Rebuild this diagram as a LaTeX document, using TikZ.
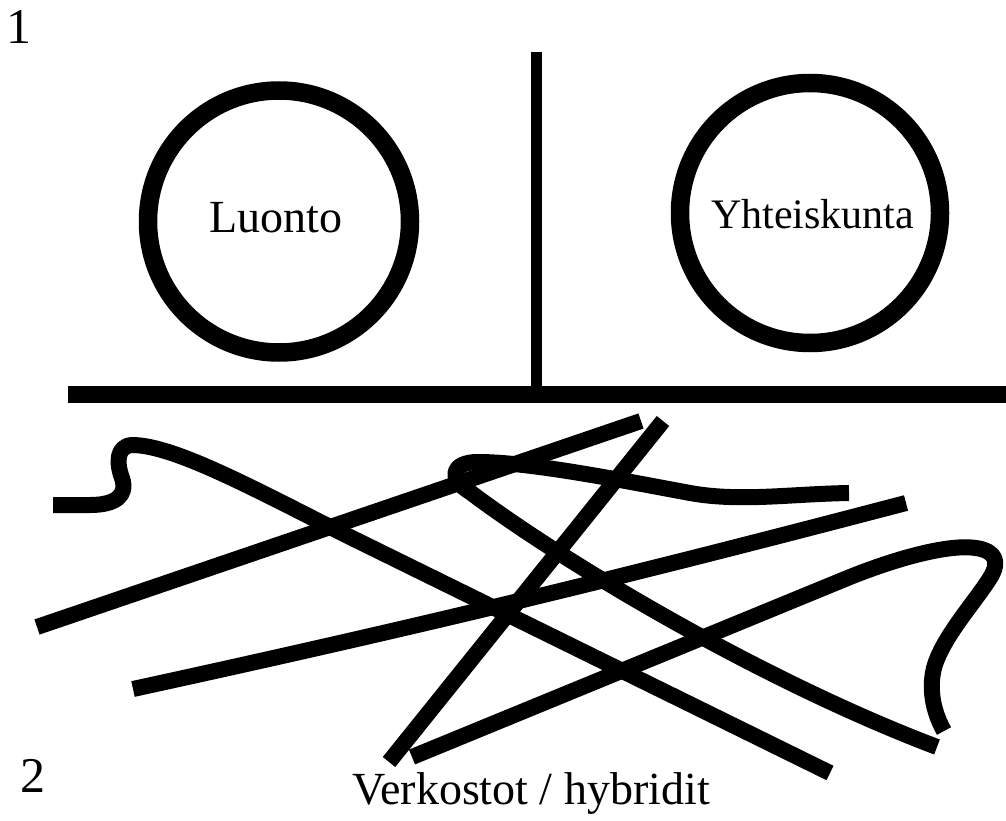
\documentclass[tikz,border=0pt]{standalone}
\usepackage{fontspec}
\setmainfont{Liberation Serif}
\begin{document}
\begin{tikzpicture}[x=1pt,y=-1pt,
  scrib/.style={line width=16pt, line cap=butt, line join=round},
  ring/.style={circle, draw, line width=18.5pt, inner sep=0pt, minimum size=262pt},
  bigtext/.style={anchor=base, inner sep=0pt, font=\fontsize{46}{50}\selectfont},
  midtext/.style={anchor=base, inner sep=0pt, font=\fontsize{42}{46}\selectfont},
  numtext/.style={anchor=base, inner sep=0pt, font=\fontsize{50}{54}\selectfont}]
\useasboundingbox (0,0) rectangle (1006,821);
% section numbers
\node[numtext] (n1) at (19,44) {1};
\node[numtext] (n2) at (32.5,792) {2};
% divider lines
\draw[line width=11pt] (536,52) -- (536,387);
\draw[line width=17pt] (68,394.5) -- (1006,394.5);
% circles
\node[ring] (luonto) at (279,221.5) {};
\node[ring, minimum size=260pt] (yhteis) at (810,213) {};
\node[bigtext] (luontotxt) at (276,233) {Luonto};
\node[midtext] (yhteistxt) at (812.5,228) {Yhteiskunta};
% scribble
\draw[scrib] (53,505) -- (90,505) .. controls (115,505) and (128,496) .. (122,478)
  .. controls (116,462) and (117,446) .. (132,445)
  .. controls (175,445) and (260,492) .. (350,537) -- (830,773);
\draw[scrib] (37,627) -- (641,421);
\draw[scrib] (663,421) -- (389,762);
\draw[scrib] (849,493) .. controls (790,494) and (740,502) .. (690,493)
  .. controls (620,480) and (530,462) .. (478,462)
  .. controls (452,462) and (447,478) .. (470,492)
  .. controls (560,560) and (760,680) .. (937,747);
\draw[scrib] (133,689) .. controls (450,620) and (650,570) .. (906,503);
\draw[scrib] (412,757) -- (850,577) .. controls (900,557) and (950,544) .. (976,548)
  .. controls (996,551) and (1000,562) .. (990,578)
  .. controls (975,602) and (942,638) .. (934,668)
  .. controls (928,692) and (935,715) .. (944,731);
% caption
\node[bigtext] (caption) at (531,804) {Verkostot / hybridit};
\end{tikzpicture}
\end{document}
